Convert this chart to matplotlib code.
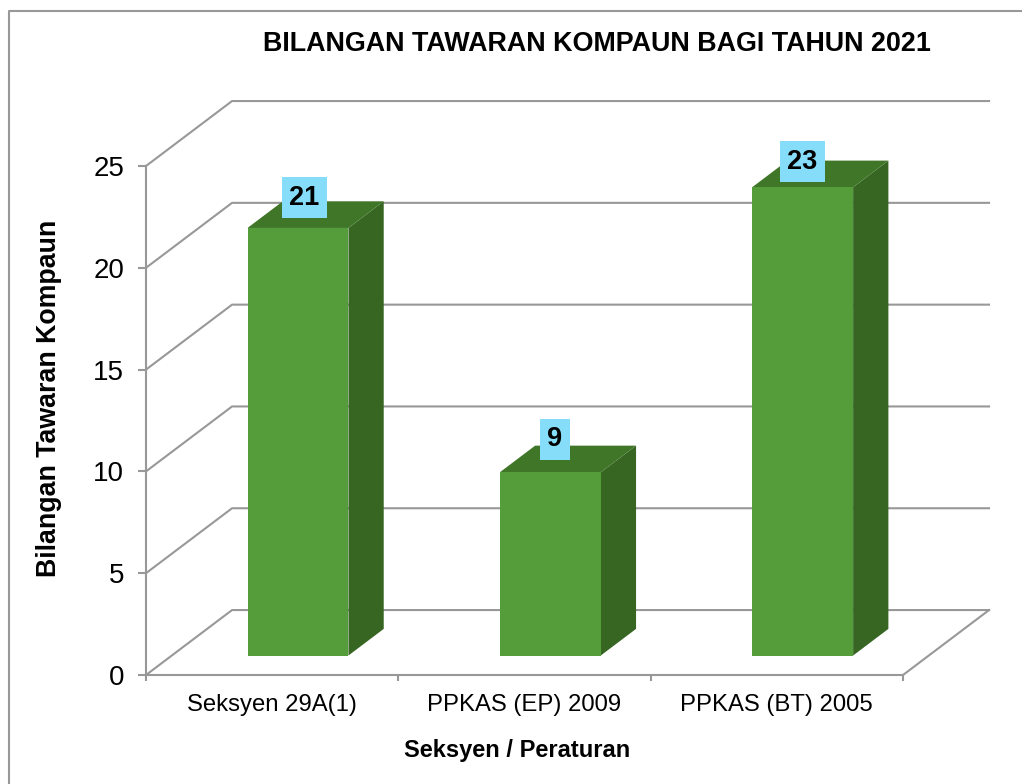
import matplotlib
matplotlib.use("Agg")
import matplotlib.pyplot as plt
from matplotlib.lines import Line2D
from matplotlib.patches import Polygon

plt.rcParams['font.family'] = ['Liberation Sans', 'DejaVu Sans']

categories = ["Seksyen 29A(1)", "PPKAS (EP) 2009", "PPKAS (BT) 2005"]
values = [21, 9, 23]
y_ticks = [0, 5, 10, 15, 20, 25]
# label box offsets from the bar's top front centre, in points
label_offsets = [(4.7, 21.8), (3.2, 23.8), (-0.3, 18.3)]

GRID = "#989898"
FRONT = "#559C3A"
TOP = "#3F7628"
SIDE = "#366622"
BOX = "#85DDF9"

# how far the back wall sits from the front plane, in data units
DEPTH_X = 0.341
DEPTH_Y = 3.19
BAR_W = 0.4
BAR_D0 = 0.30
BAR_D1 = 0.71

W, H = 1022, 784


def proj(x, v, d):
    return x + d * DEPTH_X, v + d * DEPTH_Y


fig = plt.figure(figsize=(W / 100, H / 100), dpi=100)
ax = fig.add_axes([146 / W, 1 - 675 / H, 757 / W, 509 / H])
ax.set_xlim(-0.5, 2.5)
ax.set_ylim(0, 25)
ax.patch.set_visible(False)

for s in ["top", "right"]:
    ax.spines[s].set_visible(False)
for s in ["left", "bottom"]:
    ax.spines[s].set_color(GRID)
    ax.spines[s].set_linewidth(1.5)

# walls
for v in y_ticks:
    p0 = proj(-0.5, v, 0)
    p1 = proj(-0.5, v, 1)
    p2 = proj(2.5, v, 1)
    ax.plot([p0[0], p1[0], p2[0]], [p0[1], p1[1], p2[1]], color=GRID, lw=1.5,
            clip_on=False, zorder=1, solid_joinstyle="round")
p0 = proj(2.5, 0, 0)
p1 = proj(2.5, 0, 1)
ax.plot([p0[0], p1[0]], [p0[1], p1[1]], color=GRID, lw=1.5, clip_on=False, zorder=1)

# bars
for i, val in enumerate(values):
    l, r = i - BAR_W / 2, i + BAR_W / 2
    front = [proj(l, 0, BAR_D0), proj(r, 0, BAR_D0), proj(r, val, BAR_D0), proj(l, val, BAR_D0)]
    side = [proj(r, 0, BAR_D0), proj(r, 0, BAR_D1), proj(r, val, BAR_D1), proj(r, val, BAR_D0)]
    top = [proj(l, val, BAR_D0), proj(r, val, BAR_D0), proj(r, val, BAR_D1), proj(l, val, BAR_D1)]
    ax.add_patch(Polygon(side, facecolor=SIDE, edgecolor="none", clip_on=False, zorder=3))
    ax.add_patch(Polygon(top, facecolor=TOP, edgecolor="none", clip_on=False, zorder=3))
    ax.add_patch(Polygon(front, facecolor=FRONT, edgecolor="none", clip_on=False, zorder=3))
    ax.annotate(str(val), xy=proj(i, val, BAR_D0), xytext=label_offsets[i],
                textcoords="offset points", ha="center", va="center",
                fontsize=19.5, fontweight="bold", color="black", zorder=5,
                bbox=dict(boxstyle="square,pad=0.28", facecolor=BOX, edgecolor="none"))

# ticks
ax.set_yticks(y_ticks)
ax.tick_params(axis="y", length=5.8, width=1.5, color=GRID, labelsize=20, pad=10)
for lab in ax.get_yticklabels():
    lab.set_y(lab.get_position()[1])
ax.set_xticks([-0.5, 0.5, 1.5, 2.5])
ax.set_xticklabels([])
ax.tick_params(axis="x", which="major", length=4.3, width=1.5, color=GRID)
ax.set_xticks([0, 1, 2], minor=True)
ax.set_xticklabels(categories, minor=True)
ax.tick_params(axis="x", which="minor", length=0, labelsize=17.2, pad=13.5)

ax.set_xlabel("Seksyen / Peraturan", fontsize=17, fontweight="bold")
ax.xaxis.set_label_coords((517 - 146) / 757, -(750 - 675) / 509, transform=ax.transAxes)
ax.xaxis.label.set_va("center")
ax.set_ylabel("Bilangan Tawaran Kompaun", fontsize=19.3, fontweight="bold")
ax.yaxis.set_label_coords((49 - 146) / 757, (675 - 398) / 509, transform=ax.transAxes)
ax.yaxis.label.set_va("center")

fig.text(597 / W, 1 - 44 / H, "BILANGAN TAWARAN KOMPAUN BAGI TAHUN 2021",
         fontsize=19.4, fontweight="bold", ha="center", va="center")

# chart frame, only left and top fall inside the picture
fig.add_artist(Line2D([9 / W, 9 / W, 1], [0, 1 - 11 / H, 1 - 11 / H], color=GRID, lw=1.5))

fig.savefig("out.png", dpi=100)
